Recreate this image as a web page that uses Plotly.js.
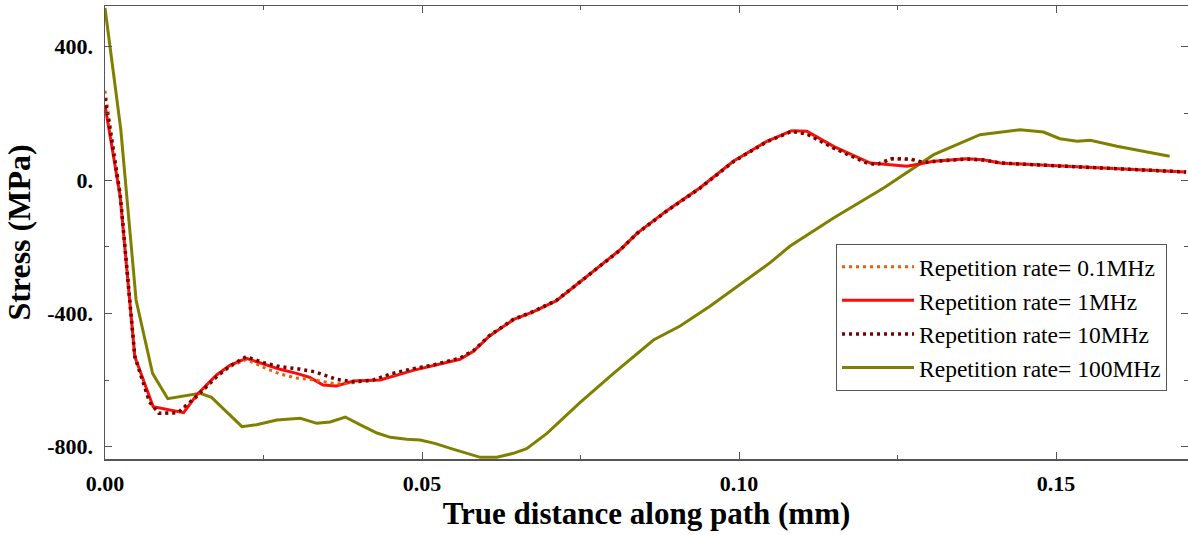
<!DOCTYPE html>
<html>
<head>
<meta charset="utf-8">
<script src="https://cdn.plot.ly/plotly-3.0.1.min.js"></script>
<style>html,body{margin:0;padding:0;background:#fff;}#chart{width:1188px;height:535px;}</style>
</head>
<body>
<div id="chart"></div>
<script>
// ---- data ----
var seriesNames = ['Repetition rate= 0.1MHz', 'Repetition rate= 1MHz', 'Repetition rate= 10MHz', 'Repetition rate= 100MHz'];

var x01 = [0, 0.0024, 0.0047, 0.0070, 0.0085, 0.0115, 0.0145, 0.0176, 0.0197, 0.0223, 0.0250, 0.0276, 0.0302, 0.0330, 0.0365, 0.0392, 0.0423, 0.0450, 0.0486, 0.0518, 0.0560, 0.0581, 0.0607, 0.0644, 0.0676, 0.0712, 0.0749, 0.0812, 0.0839, 0.0886, 0.0938, 0.0991, 0.1044, 0.1083, 0.1107, 0.1150, 0.1200, 0.1217, 0.1240, 0.1270, 0.1290, 0.1307, 0.1359, 0.1385, 0.1412, 0.1517, 0.1622, 0.1705];
var y01 = [268, -40, -525, -662, -700, -700, -650, -590, -560, -538, -562, -582, -594, -600, -612, -608, -600, -585, -568, -555, -535, -514, -465, -420, -396, -362, -306, -210, -162, -92, -24, 56, 116, 146, 140, 96, 55, 45, 62, 62, 52, 56, 64, 61, 51, 41, 31, 24];

var x1 = [0, 0.0024, 0.0047, 0.0076, 0.0124, 0.0145, 0.0176, 0.0197, 0.0223, 0.0255, 0.0276, 0.0302, 0.0323, 0.0344, 0.0365, 0.0392, 0.0434, 0.0486, 0.0518, 0.0560, 0.0581, 0.0607, 0.0644, 0.0676, 0.0712, 0.0749, 0.0812, 0.0839, 0.0886, 0.0938, 0.0991, 0.1044, 0.1083, 0.1107, 0.1149, 0.1207, 0.1265, 0.1307, 0.1359, 0.1385, 0.1412, 0.1517, 0.1622, 0.1705];
var y1 = [225, -50, -530, -680, -698, -644, -585, -556, -535, -556, -568, -580, -592, -615, -618, -603, -600, -571, -557, -538, -514, -467, -419, -395, -362, -305, -210, -160, -92, -24, 56, 116, 148, 146, 101, 51, 41, 56, 64, 61, 51, 41, 31, 24];

var x10 = [0, 0.0024, 0.0047, 0.0070, 0.0085, 0.0115, 0.0145, 0.0176, 0.0197, 0.0223, 0.0250, 0.0276, 0.0302, 0.0330, 0.0365, 0.0392, 0.0423, 0.0450, 0.0486, 0.0518, 0.0560, 0.0581, 0.0607, 0.0644, 0.0676, 0.0712, 0.0749, 0.0812, 0.0839, 0.0886, 0.0938, 0.0991, 0.1044, 0.1083, 0.1107, 0.1150, 0.1200, 0.1217, 0.1240, 0.1270, 0.1290, 0.1307, 0.1359, 0.1385, 0.1412, 0.1517, 0.1622, 0.1705];
var y10 = [245, -45, -530, -665, -700, -698, -648, -590, -558, -530, -548, -560, -566, -575, -598, -605, -600, -582, -566, -555, -534, -512, -466, -418, -394, -361, -306, -211, -160, -93, -25, 55, 115, 146, 138, 95, 52, 46, 64, 63, 53, 56, 63, 60, 51, 41, 31, 24];

var x100 = [0, 0.0025, 0.0049, 0.0075, 0.0099, 0.0150, 0.0168, 0.0216, 0.0239, 0.0271, 0.0308, 0.0334, 0.0355, 0.0379, 0.0402, 0.0429, 0.0450, 0.0476, 0.0497, 0.0520, 0.0550, 0.0592, 0.0618, 0.0644, 0.0665, 0.0697, 0.0749, 0.0802, 0.0865, 0.0907, 0.0954, 0.1049, 0.1080, 0.1149, 0.1228, 0.1307, 0.1380, 0.1443, 0.1480, 0.1506, 0.1533, 0.1554, 0.1596, 0.1679];
var y100 = [516, 150, -360, -580, -656, -640, -652, -740, -734, -720, -715, -730, -726, -711, -734, -759, -772, -778, -780, -790, -808, -832, -832, -820, -806, -760, -668, -580, -480, -438, -379, -248, -199, -114, -24, 76, 136, 151, 144, 124, 116, 119, 101, 71];

var yTickVals = [-800, -400, 0, 400];
var yTickText = ['-800.', '-400.', '0.', '400.'];
var xTickVals = [0, 0.05, 0.10, 0.15];
var xTickText = ['0.00', '0.05', '0.10', '0.15'];

// ---- traces ----
var traces = [
  {x: x100, y: y100, name: seriesNames[3], mode: 'lines', legendgroup: 'g4', legendrank: 4,
   line: {color: '#808000', width: 3}},
  {x: x1, y: y1, name: seriesNames[1], mode: 'lines', legendgroup: 'g2', legendrank: 2,
   line: {color: '#ff0a0a', width: 3}},
  {x: x01, y: y01, name: seriesNames[0], mode: 'lines', legendgroup: 'g1', legendrank: 1,
   line: {color: '#e0600c', width: 3, dash: '3px,4px'}},
  {x: x10, y: y10, name: seriesNames[2], mode: 'lines', legendgroup: 'g3', legendrank: 3,
   line: {color: '#780000', width: 3.5, dash: '3px,4px'}}
];

var serif = 'Liberation Serif, Times New Roman, serif';

var layout = {
  width: 1188, height: 535,
  margin: {l: 105, r: 0, t: 6, b: 76},
  paper_bgcolor: '#fff', plot_bgcolor: '#fff',
  showlegend: true,
  legend: {
    x: 0.675, y: 0.4746, xanchor: 'left', yanchor: 'top',
    bordercolor: '#555', borderwidth: 1, bgcolor: '#fff',
    font: {family: serif, size: 23.5, color: '#000'},
    tracegroupgap: 0, traceorder: 'grouped', itemwidth: 72
  },
  xaxis: {
    range: [0, 0.1708], showgrid: false, zeroline: false,
    showline: true, linecolor: '#555', linewidth: 1.5, mirror: 'ticks',
    ticks: 'inside', ticklen: 7, tickcolor: '#555', tickwidth: 1,
    tickmode: 'array', tickvals: xTickVals, ticktext: xTickText.map(function(t){return '<b>' + t + '</b>';}),
    tickfont: {family: serif, size: 22, color: '#000'}, ticklabelstandoff: 4,
    minor: {tickmode: 'linear', tick0: 0, dtick: 0.025, ticks: 'inside', ticklen: 4, tickcolor: '#555'},
    title: {text: '<b>True distance along path (mm)</b>', font: {family: serif, size: 31, color: '#000'}, standoff: 4}
  },
  yaxis: {
    range: [-837, 522], showgrid: false, zeroline: false,
    showline: true, linecolor: '#555', linewidth: 1.5, mirror: 'ticks',
    ticks: 'inside', ticklen: 7, tickcolor: '#555', tickwidth: 1,
    tickmode: 'array', tickvals: yTickVals, ticktext: yTickText.map(function(t){return '<b>' + t + '</b>';}),
    tickfont: {family: serif, size: 22, color: '#000'}, ticklabelstandoff: 6,
    minor: {tickmode: 'linear', tick0: 0, dtick: 200, ticks: 'inside', ticklen: 4, tickcolor: '#555'},
    title: {text: '<b>Stress (MPa)</b>', font: {family: serif, size: 32, color: '#000'}, standoff: 7}
  }
};

Plotly.newPlot('chart', traces, layout, {displayModeBar: false, staticPlot: true});
</script>
</body>
</html>
